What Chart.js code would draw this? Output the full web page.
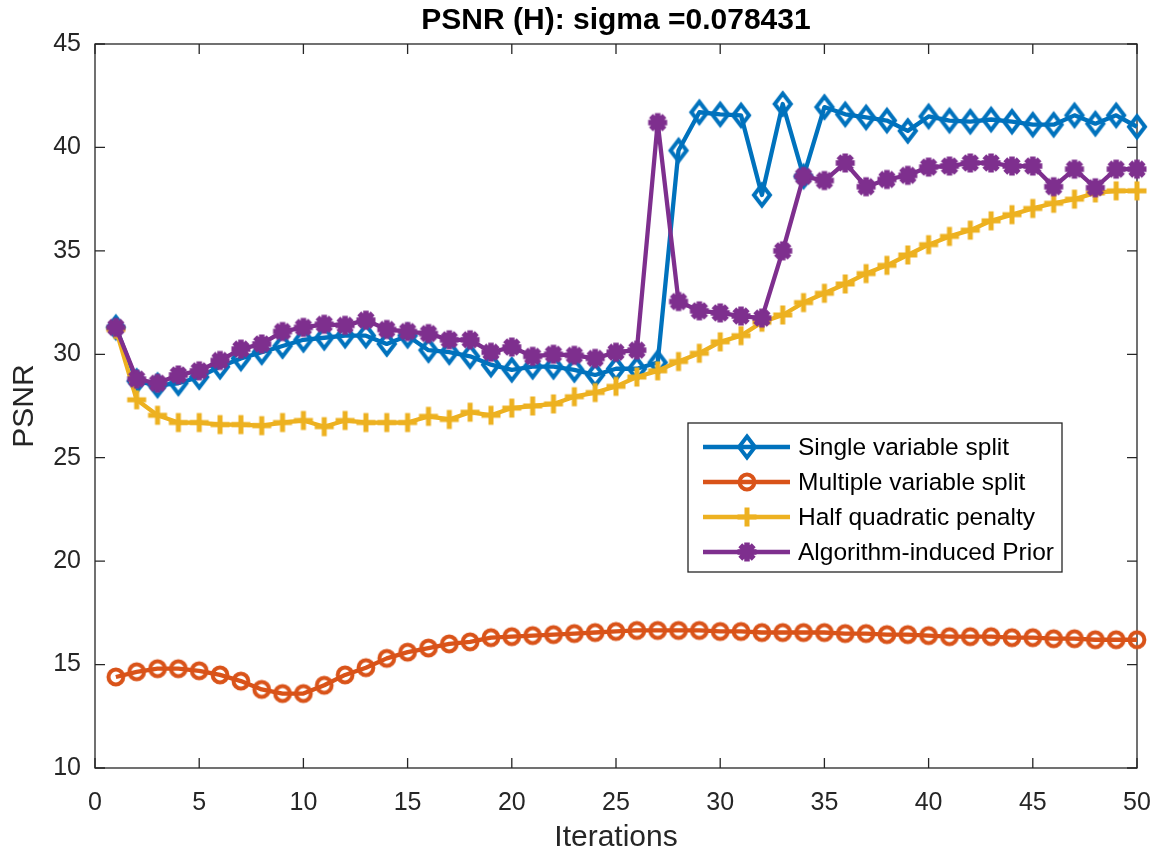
<!DOCTYPE html>
<html>
<head>
<meta charset="utf-8">
<script src="https://cdn.jsdelivr.net/npm/chart.js@4.4.1/dist/chart.umd.min.js"></script>
<style>
  html, body { margin: 0; padding: 0; background: #fff; }
  canvas { display: block; }
</style>
</head>
<body>
<canvas id="chart" width="1160" height="853"></canvas>
<script>
const iterations = [1, 2, 3, 4, 5, 6, 7, 8, 9, 10, 11, 12, 13, 14, 15, 16, 17, 18, 19, 20,
  21, 22, 23, 24, 25, 26, 27, 28, 29, 30, 31, 32, 33, 34, 35, 36, 37, 38, 39, 40,
  41, 42, 43, 44, 45, 46, 47, 48, 49, 50];

const singleSplit = [31.3, 28.7, 28.5, 28.6, 28.9, 29.4, 29.8, 30.1, 30.4, 30.7,
  30.8, 30.9, 30.9, 30.5, 30.9, 30.2, 30.1, 29.9, 29.5, 29.25,
  29.4, 29.4, 29.25, 29.0, 29.3, 29.3, 29.6, 39.85, 41.7, 41.6,
  41.55, 37.7, 42.1, 38.6, 41.95, 41.6, 41.45, 41.3, 40.8, 41.5,
  41.3, 41.25, 41.35, 41.25, 41.1, 41.1, 41.55, 41.15, 41.55, 41.0];

const multipleSplit = [14.4, 14.65, 14.8, 14.8, 14.7, 14.5, 14.2, 13.8, 13.6, 13.6,
  14.0, 14.5, 14.85, 15.3, 15.6, 15.8, 16.0, 16.1, 16.3, 16.35,
  16.4, 16.45, 16.5, 16.55, 16.6, 16.65, 16.65, 16.65, 16.65, 16.6,
  16.6, 16.55, 16.55, 16.55, 16.55, 16.5, 16.5, 16.45, 16.45, 16.4,
  16.35, 16.35, 16.35, 16.3, 16.3, 16.25, 16.25, 16.2, 16.2, 16.2];

const halfQuadratic = [31.2, 27.8, 27.05, 26.7, 26.7, 26.6, 26.6, 26.55, 26.7, 26.8,
  26.5, 26.8, 26.7, 26.7, 26.7, 27.0, 26.85, 27.2, 27.05, 27.4,
  27.5, 27.6, 27.95, 28.15, 28.45, 28.9, 29.2, 29.65, 30.05, 30.6,
  30.9, 31.55, 31.9, 32.5, 32.95, 33.4, 33.9, 34.3, 34.8, 35.3,
  35.7, 36.0, 36.45, 36.75, 37.05, 37.3, 37.5, 37.8, 37.9, 37.9];

const algoPrior = [31.3, 28.8, 28.6, 29.0, 29.2, 29.7, 30.25, 30.5, 31.1, 31.3,
  31.45, 31.4, 31.65, 31.2, 31.1, 31.0, 30.7, 30.7, 30.1, 30.35,
  29.9, 30.0, 29.95, 29.8, 30.1, 30.2, 41.2, 32.55, 32.1, 32.0,
  31.85, 31.75, 35.0, 38.6, 38.4, 39.25, 38.1, 38.45, 38.65, 39.05,
  39.1, 39.25, 39.25, 39.1, 39.1, 38.1, 38.95, 38.05, 38.95, 38.95];

const seriesNames = ['Single variable split', 'Multiple variable split',
  'Half quadratic penalty', 'Algorithm-induced Prior'];
const seriesColors = ['#0072BD', '#D95319', '#EDB120', '#7E2F8E'];
const chartTitle = 'PSNR (H): sigma =0.078431';

const FONT = '"Liberation Sans", Arial, Helvetica, sans-serif';
const AXIS = '#262626';

// hollow matlab-ish markers drawn once into small canvases
function makeMarker(kind, color) {
  const c = document.createElement('canvas');
  c.width = 28; c.height = 32;
  const g = c.getContext('2d');
  const cx = 14, cy = 16;
  g.strokeStyle = color;
  g.lineCap = 'butt';
  g.beginPath();
  if (kind === 'diamond') {
    g.lineWidth = 4;
    g.lineJoin = 'miter';
    g.moveTo(cx, cy - 10.5);
    g.lineTo(cx + 8, cy);
    g.lineTo(cx, cy + 10.5);
    g.lineTo(cx - 8, cy);
    g.closePath();
  } else if (kind === 'circle') {
    g.lineWidth = 4;
    g.arc(cx, cy, 7.4, 0, Math.PI * 2);
  } else if (kind === 'plus') {
    g.lineWidth = 5;
    g.moveTo(cx - 9.5, cy); g.lineTo(cx + 9.5, cy);
    g.moveTo(cx, cy - 9.5); g.lineTo(cx, cy + 9.5);
  } else {
    g.lineWidth = 5.5;
    for (let k = 0; k < 4; k++) {
      const a = k * Math.PI / 4;
      g.moveTo(cx - 9.5 * Math.cos(a), cy - 9.5 * Math.sin(a));
      g.lineTo(cx + 9.5 * Math.cos(a), cy + 9.5 * Math.sin(a));
    }
  }
  g.stroke();
  return c;
}

const markers = [
  makeMarker('diamond', seriesColors[0]),
  makeMarker('circle', seriesColors[1]),
  makeMarker('plus', seriesColors[2]),
  makeMarker('star', seriesColors[3])
];

const allValues = [singleSplit, multipleSplit, halfQuadratic, algoPrior];

const datasets = allValues.map((vals, i) => ({
  label: seriesNames[i],
  data: vals.map((v, k) => ({ x: iterations[k], y: v })),
  borderColor: seriesColors[i],
  borderWidth: 4.3,
  borderJoinStyle: 'round',
  pointStyle: markers[i],
  pointRadius: 10,
  clip: false,
  order: 3 - i
}));

// axes box with inward ticks, title centred over the axes, legend inside
const boxAndLegend = {
  id: 'boxAndLegend',
  beforeDatasetsDraw(chart) {
    const { ctx, chartArea: a, scales: { x, y } } = chart;
    ctx.save();
    ctx.strokeStyle = AXIS;
    ctx.lineWidth = 1.3;
    ctx.strokeRect(a.left, a.top, a.right - a.left, a.bottom - a.top);
    ctx.beginPath();
    x.ticks.forEach(t => {
      const p = x.getPixelForValue(t.value);
      ctx.moveTo(p, a.bottom); ctx.lineTo(p, a.bottom - 10);
      ctx.moveTo(p, a.top); ctx.lineTo(p, a.top + 10);
    });
    y.ticks.forEach(t => {
      const p = y.getPixelForValue(t.value);
      ctx.moveTo(a.left, p); ctx.lineTo(a.left + 10, p);
      ctx.moveTo(a.right, p); ctx.lineTo(a.right - 10, p);
    });
    ctx.stroke();

    ctx.fillStyle = '#000';
    ctx.font = 'bold 30px ' + FONT;
    ctx.textAlign = 'center';
    ctx.textBaseline = 'middle';
    ctx.fillText(chartTitle, (a.left + a.right) / 2, a.top - 23);
    ctx.restore();
  },
  afterDraw(chart) {
    const { ctx, chartArea: a } = chart;
    const left = a.right - 449, top = a.top + 379;
    ctx.save();
    ctx.fillStyle = '#fff';
    ctx.fillRect(left, top, 374, 149);
    ctx.strokeStyle = AXIS;
    ctx.lineWidth = 1.3;
    ctx.strokeRect(left, top, 374, 149);
    ctx.font = '24.5px ' + FONT;
    ctx.textBaseline = 'middle';
    ctx.fillStyle = '#000';
    chart.data.datasets.forEach((ds, i) => {
      const ry = top + 24 + i * 35;
      ctx.strokeStyle = ds.borderColor;
      ctx.lineWidth = 4.3;
      ctx.beginPath();
      ctx.moveTo(left + 15, ry);
      ctx.lineTo(left + 102, ry);
      ctx.stroke();
      const m = ds.pointStyle;
      ctx.drawImage(m, left + 59 - m.width / 2, ry - m.height / 2);
      ctx.fillText(ds.label, left + 110, ry + 1);
    });
    ctx.restore();
  }
};

new Chart(document.getElementById('chart'), {
  type: 'line',
  data: { datasets },
  options: {
    responsive: false,
    devicePixelRatio: 1,
    animation: false,
    layout: { padding: { left: 0, right: 23, top: 44, bottom: 0 } },
    plugins: {
      legend: { display: false },
      tooltip: { enabled: false },
      title: { display: false }
    },
    scales: {
      x: {
        type: 'linear',
        min: 0, max: 50,
        grid: { display: false },
        border: { display: false },
        ticks: { stepSize: 5, color: AXIS, padding: 12, maxRotation: 0,
          font: { family: FONT, size: 25 } },
        title: { display: true, text: 'Iterations', color: AXIS,
          font: { family: FONT, size: 30, lineHeight: 1 },
          padding: { top: 0, bottom: 0 } },
        afterFit: s => { s.height = 85; s.paddingLeft = 0; s.paddingRight = 0; }
      },
      y: {
        min: 10, max: 45,
        grid: { display: false },
        border: { display: false },
        ticks: { stepSize: 5, color: AXIS, padding: 6,
          font: { family: FONT, size: 25 } },
        title: { display: true, text: 'PSNR', color: AXIS,
          font: { family: FONT, size: 30, lineHeight: 1 },
          padding: { top: 10, bottom: 0 } },
        afterFit: s => { s.width = 95; s.paddingTop = 0; s.paddingBottom = 0; }
      }
    }
  },
  plugins: [boxAndLegend]
});
</script>
</body>
</html>
